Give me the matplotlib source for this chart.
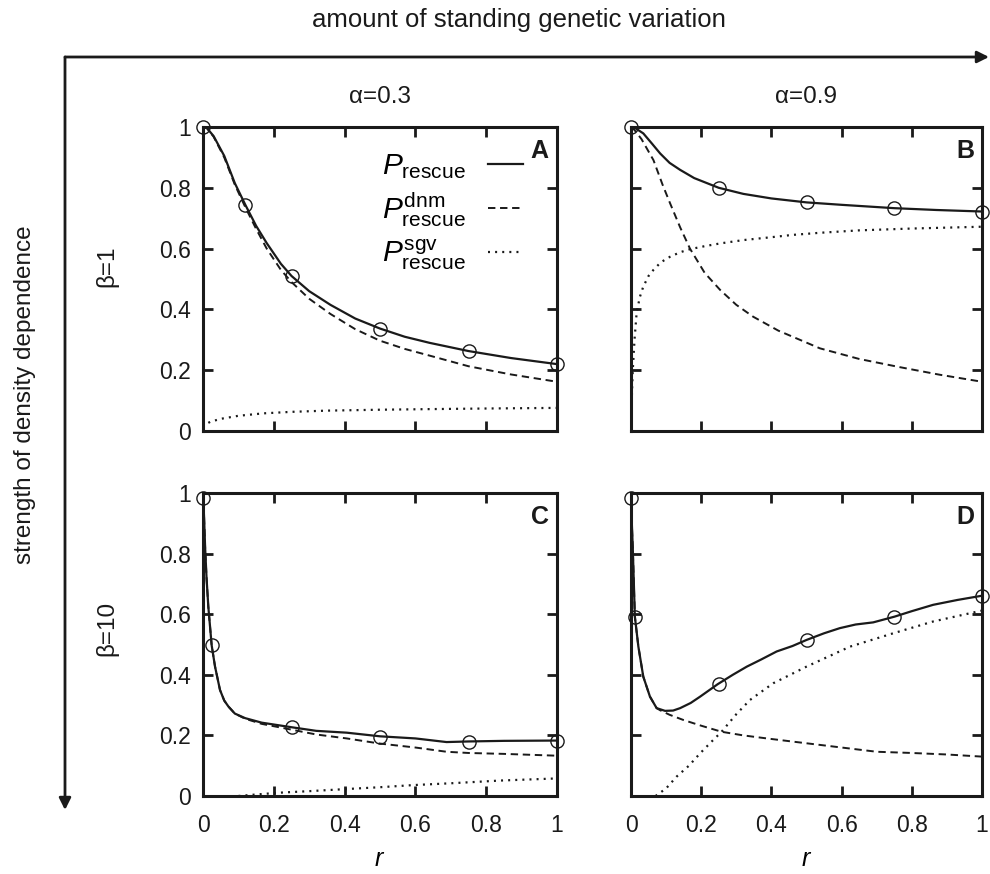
import matplotlib
matplotlib.use("Agg")
import matplotlib.pyplot as plt
from matplotlib.patches import FancyArrowPatch
from matplotlib.ticker import FuncFormatter, FixedLocator

plt.rcParams['font.family'] = ['Liberation Sans', 'DejaVu Sans']
plt.rcParams['mathtext.fontset'] = 'custom'
plt.rcParams['mathtext.rm'] = 'Liberation Sans'
plt.rcParams['mathtext.it'] = 'Liberation Sans:italic'
plt.rcParams['mathtext.bf'] = 'Liberation Sans:bold'

# ---------------- data ----------------
ticks = [0, 0.2, 0.4, 0.6, 0.8, 1.0]
col_titles = ["α=0.3", "α=0.9"]
row_titles = ["β=1", "β=10"]
panel_letters = ["A", "B", "C", "D"]
legend_labels = [r"$P_{\rm rescue}$", r"$P^{\rm dnm}_{\rm rescue}$", r"$P^{\rm sgv}_{\rm rescue}$"]

# Panel A  (alpha=0.3, beta=1)
A_r_tot = [0, 0.01, 0.03, 0.06, 0.09, 0.12, 0.15, 0.18, 0.22, 0.25, 0.3, 0.36, 0.43, 0.5, 0.57, 0.64, 0.75, 0.87, 1.0]
A_tot = [1.0, 0.998, 0.97, 0.905, 0.815, 0.743, 0.675, 0.618, 0.55, 0.51, 0.46, 0.415, 0.37, 0.337, 0.31, 0.29, 0.263, 0.24, 0.22]
A_r_dnm = [0, 0.01, 0.03, 0.06, 0.09, 0.12, 0.15, 0.18, 0.22, 0.25, 0.3, 0.36, 0.43, 0.5, 0.57, 0.64, 0.75, 0.87, 1.0]
A_dnm = [1.0, 0.998, 0.968, 0.9, 0.81, 0.735, 0.665, 0.6, 0.53, 0.49, 0.435, 0.385, 0.335, 0.297, 0.27, 0.248, 0.213, 0.186, 0.162]
A_r_sgv = [0, 0.005, 0.02, 0.05, 0.1, 0.17, 0.25, 0.35, 0.5, 0.64, 0.8, 1.0]
A_sgv = [0.012, 0.02, 0.03, 0.04, 0.05, 0.058, 0.063, 0.067, 0.07, 0.072, 0.074, 0.076]
A_r_sim = [0, 0.12, 0.25, 0.5, 0.75, 1.0]
A_sim = [1.0, 0.742, 0.511, 0.337, 0.263, 0.22]

# Panel B  (alpha=0.9, beta=1)
B_r_tot = [0, 0.01, 0.035, 0.06, 0.083, 0.11, 0.14, 0.18, 0.25, 0.32, 0.4, 0.5, 0.6, 0.75, 0.87, 1.0]
B_tot = [1.0, 0.998, 0.979, 0.945, 0.913, 0.882, 0.859, 0.832, 0.80, 0.78, 0.765, 0.752, 0.744, 0.733, 0.727, 0.722]
B_r_dnm = [0, 0.01, 0.03, 0.064, 0.09, 0.111, 0.14, 0.168, 0.21, 0.254, 0.3, 0.348, 0.42, 0.538, 0.65, 0.766, 0.88, 1.0]
B_dnm = [1.0, 0.99, 0.96, 0.891, 0.81, 0.75, 0.67, 0.60, 0.52, 0.464, 0.415, 0.376, 0.33, 0.272, 0.237, 0.21, 0.185, 0.162]
B_r_sgv = [0, 0.002, 0.005, 0.01, 0.016, 0.025, 0.035, 0.05, 0.064, 0.085, 0.111, 0.14, 0.168, 0.21, 0.254, 0.32, 0.396, 0.46, 0.538, 0.65, 0.8, 1.0]
B_sgv = [0.0, 0.1, 0.2, 0.3, 0.388, 0.44, 0.475, 0.51, 0.53, 0.555, 0.573, 0.588, 0.598, 0.608, 0.617, 0.628, 0.637, 0.645, 0.652, 0.66, 0.666, 0.672]
B_r_sim = [0, 0.25, 0.5, 0.75, 1.0]
B_sim = [1.0, 0.80, 0.752, 0.733, 0.722]

# Panel C  (alpha=0.3, beta=10)
C_r_tot = [0, 0.003, 0.006, 0.01, 0.015, 0.0245, 0.034, 0.048, 0.06, 0.072, 0.09, 0.119, 0.166, 0.25, 0.32, 0.406, 0.5, 0.6, 0.688, 0.75, 0.85, 1.0]
C_tot = [1.0, 0.92, 0.82, 0.72, 0.625, 0.497, 0.427, 0.35, 0.315, 0.295, 0.272, 0.257, 0.242, 0.227, 0.215, 0.209, 0.197, 0.19, 0.178, 0.18, 0.182, 0.183]
C_r_dnm = [0, 0.003, 0.006, 0.01, 0.015, 0.0245, 0.034, 0.048, 0.06, 0.072, 0.09, 0.119, 0.166, 0.25, 0.32, 0.406, 0.5, 0.6, 0.688, 0.75, 0.85, 1.0]
C_dnm = [1.0, 0.92, 0.82, 0.72, 0.625, 0.497, 0.427, 0.35, 0.315, 0.295, 0.272, 0.255, 0.238, 0.219, 0.203, 0.19, 0.173, 0.16, 0.146, 0.142, 0.139, 0.133]
C_r_sgv = [0.1, 0.15, 0.217, 0.3, 0.406, 0.5, 0.594, 0.7, 0.84, 1.0]
C_sgv = [0.0, 0.005, 0.011, 0.016, 0.023, 0.029, 0.036, 0.042, 0.051, 0.058]
C_r_sim = [0, 0.025, 0.25, 0.5, 0.75, 1.0]
C_sim = [0.985, 0.497, 0.227, 0.196, 0.179, 0.18]

# Panel D  (alpha=0.9, beta=10)
D_r_tot = [0, 0.002, 0.005, 0.011, 0.021, 0.035, 0.054, 0.073, 0.097, 0.12, 0.14, 0.17, 0.197, 0.247, 0.29, 0.33, 0.37, 0.415, 0.46, 0.5, 0.55, 0.595, 0.64, 0.69, 0.751, 0.8, 0.861, 0.93, 1.0]
D_tot = [1.0, 0.91, 0.82, 0.592, 0.493, 0.394, 0.328, 0.29, 0.281, 0.282, 0.29, 0.307, 0.328, 0.369, 0.40, 0.427, 0.45, 0.477, 0.495, 0.515, 0.537, 0.554, 0.566, 0.573, 0.592, 0.61, 0.631, 0.647, 0.661]
D_r_dnm = [0, 0.002, 0.005, 0.011, 0.021, 0.035, 0.054, 0.073, 0.083, 0.11, 0.149, 0.2, 0.258, 0.32, 0.387, 0.5, 0.6, 0.7, 0.8, 0.9, 1.0]
D_dnm = [1.0, 0.91, 0.82, 0.592, 0.493, 0.394, 0.328, 0.29, 0.283, 0.268, 0.251, 0.232, 0.212, 0.2, 0.19, 0.174, 0.16, 0.146, 0.142, 0.137, 0.13]
D_r_sgv = [0.07, 0.1, 0.13, 0.165, 0.197, 0.23, 0.258, 0.3, 0.339, 0.405, 0.5, 0.624, 0.747, 0.861, 1.0]
D_sgv = [0.0, 0.025, 0.064, 0.1, 0.141, 0.18, 0.212, 0.27, 0.317, 0.372, 0.427, 0.493, 0.537, 0.576, 0.612]
D_r_sim = [0, 0.011, 0.25, 0.5, 0.75, 1.0]
D_sim = [0.985, 0.592, 0.369, 0.515, 0.592, 0.661]

panels = [
    (A_r_tot, A_tot, A_r_dnm, A_dnm, A_r_sgv, A_sgv, A_r_sim, A_sim),
    (B_r_tot, B_tot, B_r_dnm, B_dnm, B_r_sgv, B_sgv, B_r_sim, B_sim),
    (C_r_tot, C_tot, C_r_dnm, C_dnm, C_r_sgv, C_sgv, C_r_sim, C_sim),
    (D_r_tot, D_tot, D_r_dnm, D_dnm, D_r_sgv, D_sgv, D_r_sim, D_sim),
]

# ---------------- figure ----------------
W, H = 990, 874
fig = plt.figure(figsize=(W / 100, H / 100), dpi=100)

def px_axes(x0, y0, x1, y1):
    return fig.add_axes([x0 / W, 1 - y1 / H, (x1 - x0) / W, (y1 - y0) / H])

boxes = [(203, 127, 557, 431), (631, 127, 982, 431),
         (203, 493, 557, 796), (631, 493, 982, 796)]

ink = '#1a1a1a'
fmt = FuncFormatter(lambda v, p: f"{v:g}")
axes = []
for i, (box, data) in enumerate(zip(boxes, panels)):
    ax = px_axes(*box)
    axes.append(ax)
    rt, yt, rd, yd, rs, ys, rm, ym = data
    l1, = ax.plot(rt, yt, color=ink, lw=1.6, solid_joinstyle='round')
    l2, = ax.plot(rd, yd, color=ink, lw=1.4, linestyle=(0, (3.8, 2.4)))
    l3, = ax.plot(rs, ys, color=ink, lw=1.6, linestyle=(0, (0.9, 2.3)))
    ax.plot(rm, ym, linestyle='none', marker='o', ms=9.5, mfc='none',
            mec=ink, mew=1.0, clip_on=False, zorder=5)
    ax.set_xlim(0, 1)
    ax.set_ylim(0, 1)
    ax.xaxis.set_major_locator(FixedLocator(ticks))
    ax.yaxis.set_major_locator(FixedLocator(ticks))
    ax.xaxis.set_major_formatter(fmt)
    ax.yaxis.set_major_formatter(fmt)
    ax.tick_params(direction='in', length=7, width=2, top=True, right=True,
                   labelsize=16.5, colors=ink)
    ax.tick_params(axis='x', pad=13)
    ax.tick_params(axis='y', pad=9)
    for s in ax.spines.values():
        s.set_linewidth(2.2)
        s.set_color(ink)
    if i % 2 == 1:
        ax.tick_params(labelleft=False)
    if i < 2:
        ax.tick_params(labelbottom=False)
    else:
        ax.set_xlabel(r"$r$", fontsize=18, labelpad=7)
    ax.text(0.977, 0.96, panel_letters[i], transform=ax.transAxes, ha='right',
            va='top', fontsize=18, fontweight='bold', color=ink)
    if i == 0:
        ax.legend([l1, l2, l3], legend_labels, loc='upper right',
                  bbox_to_anchor=(0.962, 0.985), frameon=False, markerfirst=False,
                  fontsize=21.5, handlelength=1.15, labelspacing=0.3,
                  handletextpad=0.75, borderpad=0.2)

# column / row titles
for ax, t in zip(axes[:2], col_titles):
    x = (ax.get_position().x0 + ax.get_position().x1) / 2
    fig.text(x, 1 - 97 / H, t, ha='center', va='center', fontsize=17.5, color=ink)
for y, t in zip([266, 628], row_titles):
    fig.text(107 / W, 1 - y / H, t, ha='center', va='center', rotation=90,
             fontsize=17.5, color=ink)

fig.text(519 / W, 1 - 20 / H, "amount of standing genetic variation", ha='center',
         va='center', fontsize=18.5, color=ink)
fig.text(25 / W, 1 - 395 / H, "strength of density dependence", ha='center',
         va='center', rotation=90, fontsize=17.5, color=ink)

# arrows
corner = (65 / W, 1 - 57 / H)
fig.add_artist(FancyArrowPatch(corner, (989 / W, 1 - 57 / H), transform=fig.transFigure,
                               arrowstyle='-|>,head_length=7,head_width=3.5',
                               lw=2, color=ink, shrinkA=0, shrinkB=0, mutation_scale=1))
fig.add_artist(FancyArrowPatch(corner, (65 / W, 1 - 810 / H), transform=fig.transFigure,
                               arrowstyle='-|>,head_length=7,head_width=3.5',
                               lw=2, color=ink, shrinkA=0, shrinkB=0, mutation_scale=1))

fig.savefig("out.png", dpi=100)
